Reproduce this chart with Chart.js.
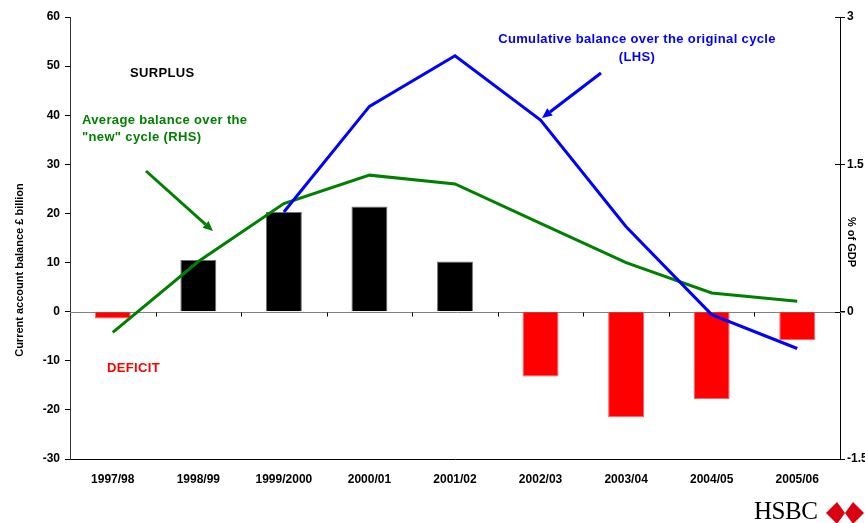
<!DOCTYPE html>
<html>
<head>
<meta charset="utf-8">
<script src="https://cdn.jsdelivr.net/npm/chart.js@4.4.1/dist/chart.umd.min.js"></script>
<style>
  html, body { margin: 0; padding: 0; background: #fff; }
  #wrap { position: relative; width: 865px; height: 523px; overflow: hidden; }
  #chart { position: absolute; left: 0; top: 0; }
  #brand { position: absolute; left: 754px; top: 498px; font-family: "Liberation Serif", "DejaVu Serif", serif; font-size: 25px; color: #000; line-height: 25px; letter-spacing: -0.5px; }
  #hex { position: absolute; left: 826px; top: 502px; }
</style>
</head>
<body>
<div id="wrap">
  <canvas id="chart" width="865" height="523"></canvas>
  <div id="brand">HSBC</div>
  <svg id="hex" width="38" height="22" viewBox="0 0 38 22">
    <polygon points="0,11 11,0 11,22" fill="#db0011"/>
    <polygon points="38,11 27,0 27,22" fill="#db0011"/>
    <polygon points="11,0 19,11 11,22" fill="#db0011"/>
    <polygon points="27,0 19,11 27,22" fill="#db0011"/>
  </svg>
</div>
<script>
// Fiscal years on the category axis
const years = ['1997/98', '1998/99', '1999/2000', '2000/01', '2001/02', '2002/03', '2003/04', '2004/05', '2005/06'];

// Annual current account balance, £ billion (left axis)
const annualBalance = [-1.4, 10.5, 20.3, 21.4, 10.2, -13.2, -21.5, -17.8, -5.8];

// Cumulative balance over the original cycle, £ billion (left axis)
const cumulativeBalance = [null, null, 20.3, 41.8, 52.1, 39.0, 17.3, -0.6, -7.5];

// Average balance over the "new" cycle, % of GDP (right axis)
const averageBalance = [-0.21, 0.51, 1.1, 1.39, 1.3, 0.9, 0.5, 0.19, 0.105];

// Tick values
const leftTicks = [-30, -20, -10, 0, 10, 20, 30, 40, 50, 60];
const rightTicks = [-1.5, 0, 1.5, 3];

const FONT = '"Liberation Sans", Arial, sans-serif';

// Zero line with category separator ticks, plus inner ticks on the right axis
const zeroLine = {
  id: 'zeroLine',
  beforeDatasetsDraw(chart) {
    const { ctx, chartArea, scales } = chart;
    const y0 = Math.round(scales.y.getPixelForValue(0)) + 0.5;
    ctx.save();
    ctx.strokeStyle = '#808080';
    ctx.lineWidth = 1;
    ctx.beginPath();
    ctx.moveTo(chartArea.left, y0);
    ctx.lineTo(chartArea.right + 5, y0);
    ctx.stroke();
    ctx.strokeStyle = '#000';
    for (let i = 1; i < years.length; i++) {
      const x = Math.round((scales.x.getPixelForValue(i - 1) + scales.x.getPixelForValue(i)) / 2) + 0.5;
      ctx.beginPath();
      ctx.moveTo(x, y0);
      ctx.lineTo(x, y0 + 4);
      ctx.stroke();
    }
    rightTicks.forEach(v => {
      const y = Math.round(scales.y1.getPixelForValue(v)) + 0.5;
      ctx.beginPath();
      ctx.moveTo(chartArea.right - 5, y);
      ctx.lineTo(chartArea.right, y);
      ctx.stroke();
    });
    ctx.restore();
  }
};

function arrow(ctx, x1, y1, x2, y2, color) {
  const a = Math.atan2(y2 - y1, x2 - x1);
  const len = 10, w = 4.5;
  const bx = x2 - len * Math.cos(a), by = y2 - len * Math.sin(a);
  ctx.strokeStyle = color;
  ctx.fillStyle = color;
  ctx.lineWidth = 3;
  ctx.beginPath();
  ctx.moveTo(x1, y1);
  ctx.lineTo(bx, by);
  ctx.stroke();
  ctx.beginPath();
  ctx.moveTo(x2, y2);
  ctx.lineTo(bx + w * Math.sin(a), by - w * Math.cos(a));
  ctx.lineTo(bx - w * Math.sin(a), by + w * Math.cos(a));
  ctx.closePath();
  ctx.fill();
}

// Text labels, arrows and axis titles
const notes = {
  id: 'notes',
  afterDraw(chart) {
    const { ctx } = chart;
    ctx.save();
    ctx.textBaseline = 'middle';
    ctx.font = 'bold 13px ' + FONT;
    ctx.letterSpacing = '0.35px';

    ctx.fillStyle = '#000';
    ctx.textAlign = 'left';
    ctx.fillText('SURPLUS', 130, 73);

    ctx.fillStyle = '#ff0000';
    ctx.fillText('DEFICIT', 107, 368);

    ctx.fillStyle = '#008000';
    ctx.fillText('Average balance over the', 82, 120);
    ctx.fillText('"new" cycle (RHS)', 82, 137);

    ctx.fillStyle = '#0000ff';
    ctx.textAlign = 'center';
    ctx.fillText('Cumulative balance over the original cycle', 637, 39);
    ctx.fillText('(LHS)', 637, 57);

    arrow(ctx, 146, 171, 213, 231, '#008000');
    arrow(ctx, 601, 73, 542, 118, '#0000ff');

    // axis titles
    ctx.letterSpacing = '0px';
    ctx.fillStyle = '#000';
    ctx.font = 'bold 11px ' + FONT;
    ctx.save();
    ctx.translate(20, 270);
    ctx.rotate(-Math.PI / 2);
    ctx.fillText('Current account balance £ billion', 0, 0);
    ctx.restore();
    ctx.save();
    ctx.translate(851, 242);
    ctx.rotate(Math.PI / 2);
    ctx.fillText('% of GDP', 0, 0);
    ctx.restore();

    ctx.restore();
  }
};

new Chart(document.getElementById('chart'), {
  data: {
    labels: years,
    datasets: [
      {
        type: 'line',
        label: 'Cumulative balance over the original cycle (LHS)',
        data: cumulativeBalance,
        yAxisID: 'y',
        borderColor: '#0000ff',
        borderWidth: 3,
        pointRadius: 0,
        tension: 0,
        fill: false,
        order: 1
      },
      {
        type: 'line',
        label: 'Average balance over the "new" cycle (RHS)',
        data: averageBalance,
        yAxisID: 'y1',
        borderColor: '#008000',
        borderWidth: 3,
        pointRadius: 0,
        tension: 0,
        fill: false,
        order: 2
      },
      {
        type: 'bar',
        label: 'Current account balance',
        data: annualBalance,
        yAxisID: 'y',
        backgroundColor: annualBalance.map(v => v < 0 ? '#ff0000' : '#000000'),
        borderColor: annualBalance.map(v => v < 0 ? '#ff6060' : '#707070'),
        borderWidth: 1,
        borderSkipped: 'start',
        barPercentage: 0.42,
        categoryPercentage: 1,
        order: 3
      }
    ]
  },
  options: {
    responsive: false,
    animation: false,
    layout: { padding: { top: 17, left: 0, right: 0, bottom: 0 } },
    plugins: { legend: { display: false }, tooltip: { enabled: false } },
    scales: {
      x: {
        offset: true,
        grid: { display: false, drawTicks: false },
        border: { display: true, color: '#000', width: 1 },
        ticks: { color: '#000', font: { family: FONT, size: 12, weight: 'bold' }, padding: 13, maxRotation: 0, autoSkip: false },
        afterFit(s) { s.height = 64; }
      },
      y: {
        position: 'left',
        min: -30,
        max: 60,
        afterBuildTicks(s) { s.ticks = leftTicks.map(v => ({ value: v })); },
        grid: { drawOnChartArea: false, tickLength: 5, color: '#000' },
        border: { display: true, color: '#333', width: 1 },
        ticks: { color: '#000', font: { family: FONT, size: 12, weight: 'bold' }, padding: 5 },
        afterFit(s) { s.width = 70; }
      },
      y1: {
        position: 'right',
        min: -1.5,
        max: 3,
        afterBuildTicks(s) { s.ticks = rightTicks.map(v => ({ value: v })); },
        grid: { drawOnChartArea: false, tickLength: 5, color: '#000' },
        border: { display: true, color: '#000', width: 1 },
        ticks: { color: '#000', font: { family: FONT, size: 12, weight: 'bold' }, padding: 2, callback: v => String(v) },
        afterFit(s) { s.width = 25; }
      }
    }
  },
  plugins: [zeroLine, notes]
});
</script>
</body>
</html>
